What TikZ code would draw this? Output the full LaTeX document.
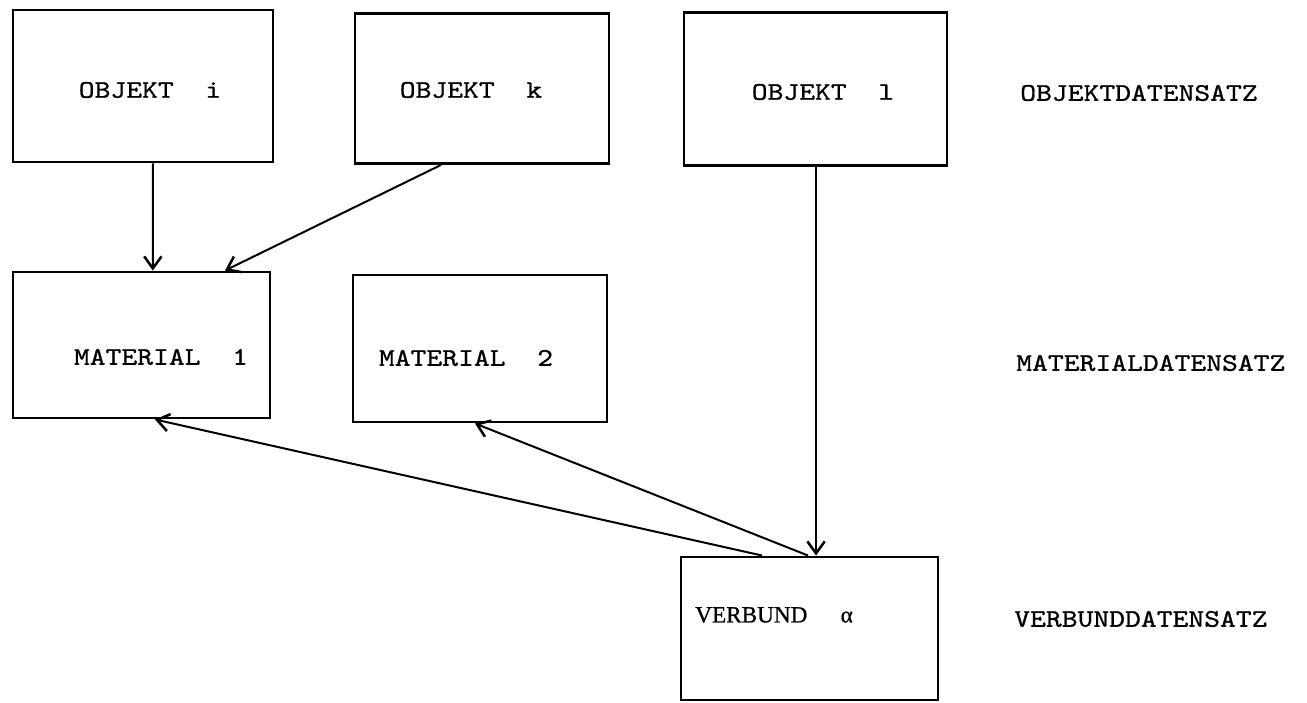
\documentclass[tikz,border=0pt]{standalone}
\usepackage{fontspec}
\newfontfamily\typewriter[FakeStretch=1.19,FakeBold=0.9]{lmmono10-regular.otf}
\newfontfamily\romanface[FakeBold=0.8]{Liberation Serif}
\usetikzlibrary{arrows.meta}
\begin{document}
\begin{tikzpicture}[x=0.75pt,y=-0.75pt,
  box/.style 2 args={draw, line width=2.2pt, inner sep=0pt,
    minimum width=0.75*#1 pt, minimum height=0.75*#2 pt},
  txt/.style={font=\typewriter\fontsize{19}{22}\selectfont, inner sep=0pt},
  serif/.style={font=\romanface\fontsize{17.4}{20}\selectfont, inner sep=0pt},
  conn/.style={line width=1.5pt, -{Straight Barb[length=9pt,width=13pt,line width=1.9pt]}}]
\useasboundingbox (0,0) rectangle (1307,703);

% boxes
\node[box={260}{152}] (oi) at (143,86) {};
\node[box={254}{150}] (ok) at (482,88.5) {};
\node[box={263}{153}] (ol) at (815.5,89) {};
\node[box={257}{146}] (m1) at (141.5,345) {};
\node[box={254}{147}] (m2) at (480,348.5) {};
\node[box={257}{143}] (v)  at (809.5,628.5) {};

% box texts
\node[txt] (oit) at (150,90) {OBJEKT\ \ i};
\node[txt] (okt) at (471,90) {OBJEKT\ \ k};
\node[txt] (olt) at (823,92) {OBJEKT\ \ l};
\node[txt] (m1t) at (161,357) {MATERIAL\ \ 1};
\node[txt] (m2t) at (466,358) {MATERIAL\ \ 2};
\node[serif, anchor=west] (vt) at (695,615) {VERBUND\hspace{25pt}α};

% right-hand labels
\node[txt, anchor=west] (l1) at (1020,93) {OBJEKTDATENSATZ};
\node[txt, anchor=west] (l2) at (1016,363) {MATERIALDATENSATZ};
\node[txt, anchor=west] (l3) at (1014,619) {VERBUNDDATENSATZ};

% connectors
\draw[conn] ([xshift=7.5]oi.south) -- ([xshift=8.5]m1.north);
\draw[conn] ([xshift=-30.75]ok.south) -- ([xshift=62.6]m1.north);
\draw[conn] ([xshift=0.4]ol.south) -- ([xshift=4.9]v.north);
\draw[conn] ([xshift=-1.1]v.north) -- ([xshift=-3.75]m2.south);
\draw[conn] ([xshift=-35.6]v.north) -- ([xshift=10.1]m1.south);
\end{tikzpicture}
\end{document}
